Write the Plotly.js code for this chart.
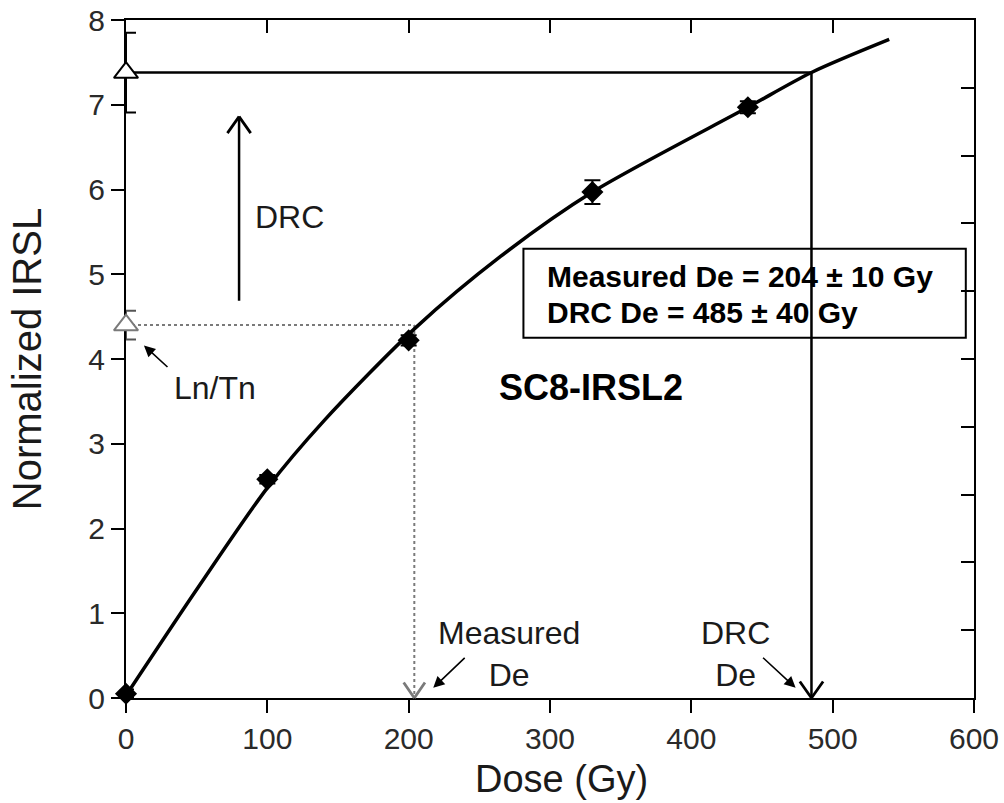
<!DOCTYPE html>
<html>
<head>
<meta charset="utf-8">
<script src="https://cdn.plot.ly/plotly-3.0.1.min.js"></script>
<style>
  html, body { margin: 0; padding: 0; background: #fff; }
  #chart { width: 1004px; height: 803px; }
</style>
</head>
<body>
<div id="chart"></div>
<script>
// Regenerated dose points (Gy) and their normalized IRSL response
const doseGy = [0, 100, 200, 330, 440];
const irsl = [0.05, 2.58, 4.22, 5.97, 6.97];
const irslErr = [0.05, 0.05, 0.06, 0.14, 0.07];

// Fitted dose response curve, sampled along its length
const fitDose = [0, 50, 100, 140, 205, 265, 330, 440, 485, 540];
const fitIrsl = [0.03, 1.28, 2.48, 3.27, 4.37, 5.21, 5.97, 6.97, 7.38, 7.77];

// Natural signals (Ln/Tn) at zero dose
const lnTnMeasured = 4.40, lnTnMeasuredErr = 0.17;
const lnTnDrc = 7.38, lnTnDrcErr = 0.47;

// Equivalent doses (Gy)
const measuredDe = 204, measuredDeErr = 10;
const drcDe = 485, drcDeErr = 40;

// Axis ticks
const xTicks = [0, 100, 200, 300, 400, 500, 600];
const yTicks = [0, 1, 2, 3, 4, 5, 6, 7, 8];
const rightTicks = [0.8, 1.6, 2.4, 3.2, 4.0, 4.8, 5.6, 6.4, 7.2];

const FONT = 'Liberation Sans, Arial, Helvetica, sans-serif';
const GREY = '#7a7a7a';

const traces = [
  // dotted guide: measured Ln/Tn across to the curve and down to the dose axis
  { x: [0, measuredDe], y: [lnTnMeasured, lnTnMeasured], mode: 'lines',
    line: { color: GREY, width: 2, dash: 'dot' }, hoverinfo: 'skip' },
  { x: [measuredDe, measuredDe], y: [lnTnMeasured, 0.02], mode: 'lines',
    line: { color: GREY, width: 2, dash: 'dot' }, hoverinfo: 'skip' },
  // solid guide: DRC Ln/Tn across to the curve and down to the dose axis
  { x: [0, drcDe, drcDe], y: [lnTnDrc, lnTnDrc, 0], mode: 'lines',
    line: { color: '#000', width: 2.5 }, hoverinfo: 'skip' },
  // fitted curve
  { x: fitDose, y: fitIrsl, mode: 'lines',
    line: { color: '#000', width: 3.5, shape: 'spline', smoothing: 0.8 }, hoverinfo: 'skip' },
  // regenerated points
  { x: doseGy, y: irsl, mode: 'markers',
    marker: { symbol: 'diamond', size: 17, color: '#000' },
    error_y: { type: 'data', array: irslErr, visible: true, color: '#000', thickness: 2, width: 8 },
    cliponaxis: false },
  // measured Ln/Tn
  { x: [0], y: [lnTnMeasured], mode: 'markers',
    marker: { symbol: 'triangle-up', size: 21, color: '#fff', line: { color: GREY, width: 2 } },
    error_y: { type: 'data', array: [lnTnMeasuredErr], visible: true, color: '#555', thickness: 2, width: 10 },
    cliponaxis: false },
  // DRC Ln/Tn
  { x: [0], y: [lnTnDrc], mode: 'markers',
    marker: { symbol: 'triangle-up', size: 21, color: '#fff', line: { color: '#000', width: 2 } },
    error_y: { type: 'data', array: [lnTnDrcErr], visible: true, color: '#000', thickness: 2, width: 10 },
    cliponaxis: false },
  // carries the top and right tick axes
  { x: [], y: [], xaxis: 'x2', yaxis: 'y2', mode: 'markers', hoverinfo: 'skip' }
];

// shared settings for text-less arrows: a 1px empty label so the stroke runs its full length
const bareArrow = {
  text: '', showarrow: true, standoff: 0, startstandoff: 0, borderpad: 0,
  font: { size: 1 }, arrowcolor: '#000'
};

// straight segment between two data points (no head)
function segment(x, y, ax, ay) {
  return Object.assign({}, bareArrow, {
    x: x, y: y, ax: ax, ay: ay, xref: 'x', yref: 'y', axref: 'x', ayref: 'y',
    arrowhead: 0, arrowwidth: 2.5
  });
}

// open "V" head: two short strokes leaving the tip at a pixel offset
function chevron(x, y, halfWidth, depth, color) {
  const wing = (dx) => Object.assign({}, bareArrow, {
    x: x, y: y, ax: dx, ay: depth, xref: 'x', yref: 'y', axref: 'pixel', ayref: 'pixel',
    arrowhead: 0, arrowwidth: 2.8, arrowcolor: color || '#000'
  });
  return [wing(-halfWidth), wing(halfWidth)];
}

// thin pointer with a small filled head
function pointer(x, y, ax, ay) {
  return Object.assign({}, bareArrow, {
    x: x, y: y, ax: ax, ay: ay, xref: 'x', yref: 'y', axref: 'x', ayref: 'y',
    arrowhead: 2, arrowsize: 1.4, arrowwidth: 1.6
  });
}

function label(x, y, text, opts) {
  return Object.assign({
    x: x, y: y, xref: 'x', yref: 'y', text: text, showarrow: false,
    font: { family: FONT, size: 32, color: '#1a1a1a' }
  }, opts || {});
}

const annotations = [
  // heads of the two De drops
  ...chevron(drcDe, 0, 12, -17, '#000'),
  ...chevron(measuredDe, 0, 11, -16, GREY),
  // DRC direction arrow
  segment(80, 6.86, 80, 4.68),
  ...chevron(80, 6.86, 12, 17, '#000'),
  // small pointers
  pointer(12.7, 4.16, 29.7, 3.9),
  pointer(217.4, 0.12, 240, 0.48),
  pointer(473.8, 0.12, 450.4, 0.48),

  label(90, 5.67, 'DRC', { xanchor: 'left' }),
  label(63, 3.66, 'Ln/Tn'),
  label(271, 0.52, 'Measured<br>De'),
  label(431, 0.52, 'DRC<br>De'),

  label(296.7, 4.97, 'Measured De = ' + measuredDe + ' \u00b1 ' + measuredDeErr + ' Gy',
    { xanchor: 'left', font: { family: FONT, size: 30, color: '#000', weight: 'bold' } }),
  label(296.7, 4.55, 'DRC De = ' + drcDe + ' \u00b1 ' + drcDeErr + ' Gy',
    { xanchor: 'left', font: { family: FONT, size: 30, color: '#000', weight: 'bold' } }),
  label(262.7, 3.66, 'SC8-IRSL2',
    { xanchor: 'left', font: { family: FONT, size: 36, color: '#000', weight: 'bold' } }),

  // dose axis title
  { xref: 'paper', yref: 'paper', x: 0.513, y: -0.1195, xanchor: 'center', yanchor: 'middle',
    text: 'Dose (Gy)', showarrow: false, font: { family: FONT, size: 38, color: '#1a1a1a' } }
];

const axisCommon = {
  showgrid: false, zeroline: false, showline: true, linecolor: '#000', linewidth: 2,
  ticks: 'outside', ticklen: 13, tickwidth: 2, tickcolor: '#000',
  tickfont: { family: FONT, size: 30, color: '#2a2a2a' }, mirror: true, layer: 'below traces'
};

const layout = {
  width: 1004, height: 803,
  margin: { l: 126, r: 30, t: 20, b: 105 },
  paper_bgcolor: '#fff', plot_bgcolor: '#fff',
  showlegend: false,
  font: { family: FONT },
  xaxis: Object.assign({}, axisCommon, {
    range: [0, 600], tickvals: xTicks
  }),
  yaxis: Object.assign({}, axisCommon, {
    range: [0, 8], tickvals: yTicks,
    title: { text: 'Normalized IRSL', font: { family: FONT, size: 40, color: '#1a1a1a' }, standoff: 34 }
  }),
  xaxis2: {
    overlaying: 'x', side: 'top', range: [0, 600], tickvals: xTicks,
    ticks: 'inside', ticklen: 13, tickwidth: 2, tickcolor: '#000',
    showticklabels: false, showgrid: false, zeroline: false, showline: false
  },
  yaxis2: {
    overlaying: 'y', side: 'right', range: [0, 8], tickvals: rightTicks,
    ticks: 'inside', ticklen: 13, tickwidth: 2, tickcolor: '#000',
    showticklabels: false, showgrid: false, zeroline: false, showline: false
  },
  shapes: [
    // frame around the De summary
    { type: 'rect', xref: 'x', yref: 'y', x0: 281.2, x1: 594.2, y0: 4.25, y1: 5.30,
      line: { color: '#000', width: 2 }, fillcolor: 'rgba(0,0,0,0)' }
  ],
  annotations: annotations
};

Plotly.newPlot('chart', traces, layout, { staticPlot: true, displayModeBar: false });
</script>
</body>
</html>
